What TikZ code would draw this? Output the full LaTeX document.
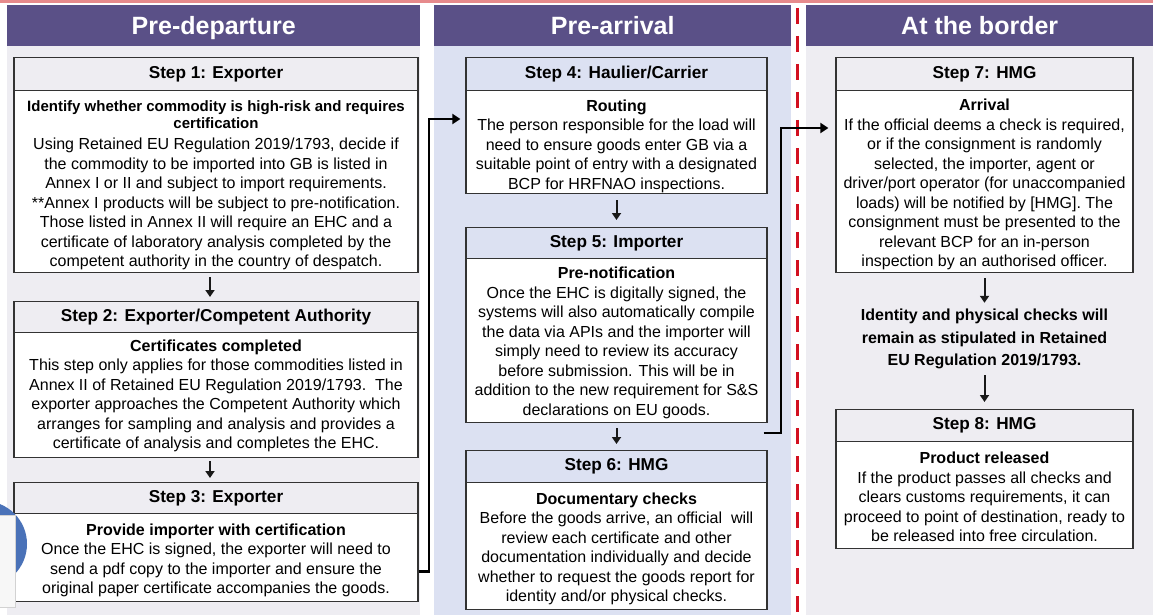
\documentclass[tikz,border=0pt]{standalone}
\usepackage{fontspec}
\setmainfont{Liberation Sans}
\usetikzlibrary{arrows.meta,calc}
\definecolor{hdr}{HTML}{5A5087}
\definecolor{bggray}{HTML}{EEEDF2}
\definecolor{bgblue}{HTML}{DCE1F2}
\definecolor{pinkline}{HTML}{E68A8C}
\definecolor{reddash}{HTML}{D21020}
\definecolor{circblue}{HTML}{4A72B8}
\definecolor{boxline}{HTML}{333333}
\newcommand{\stitle}[1]{{\bfseries\fontsize{16}{19.5}\selectfont #1}}
\newcommand{\stitlesm}[1]{{\bfseries\fontsize{15}{17.5}\selectfont #1}}
\begin{document}
\begin{tikzpicture}[x=1pt,y=-1pt,
  colhead/.style={fill=hdr, text=white, font=\bfseries\fontsize{25}{30}\selectfont, inner sep=0, anchor=north west, minimum height=41, text depth=0pt},
  stephead/.style={draw=boxline, line width=1.2pt, fill=#1, font=\bfseries\fontsize{17.2}{20}\selectfont, inner sep=0, anchor=north},
  stepbody/.style={draw=boxline, line width=1.2pt, fill=white, inner sep=0, anchor=north},
  bodytext/.style={font=\fontsize{16}{19.5}\selectfont, align=center, inner sep=0},
  midtext/.style={font=\bfseries\fontsize{16}{22.5}\selectfont, align=center, inner sep=0},
  flow/.style={draw=black!90, line width=2pt, -{Triangle[width=9pt,length=7pt]}},
  link/.style={draw=black, line width=2.5pt, -{Triangle[width=10pt,length=8pt]}}
]
\useasboundingbox (0,0) rectangle (1153,615);
\fill[white] (0,0) rectangle (1153,615);
\fill[pinkline] (0,0) rectangle (1153,3.5);
% column backgrounds
\fill[bggray] (7,46) rectangle (420,615);
\fill[bgblue] (434,46) rectangle (791,615);
\fill[bggray] (806,46) rectangle (1153,615);
% column headers
\node[colhead, minimum width=413] (h1) at (7,5) {Pre-departure};
\node[colhead, minimum width=357] (h2) at (434,5) {Pre-arrival};
\node[colhead, minimum width=347] (h3) at (806,5) {At the border};
% divider
\draw[reddash, line width=3pt, dash pattern=on 16pt off 12pt] (797,8) -- (797,615);

% ---------- Pre-departure ----------
\node[stephead=bggray, minimum width=404, minimum height=33] (s1h) at (216,57) {Step 1: Exporter};
\node[stepbody, minimum width=404, minimum height=182] (s1b) at (216,90) {};
\node[bodytext] (t1) at ($(s1b.center)+(0,3.5)$) {%
\stitlesm{Identify whether commodity is high-risk and requires}\\[-2pt]
\stitlesm{certification}\\[1.5pt]
Using Retained EU Regulation 2019/1793, decide if\\
the commodity to be imported into GB is listed in\\
Annex I or II and subject to import requirements.\\
**Annex I products will be subject to pre-notification.\\
Those listed in Annex II will require an EHC and a\\
certificate of laboratory analysis completed by the\\
competent authority in the country of despatch.};

\node[stephead=bggray, minimum width=404, minimum height=31] (s2h) at (216,301) {Step 2: Exporter/Competent Authority};
\node[stepbody, minimum width=404, minimum height=125] (s2b) at (216,332) {};
\node[bodytext] (t2) at ($(s2b.center)+(0,1)$) {%
\stitle{Certificates completed}\\
This step only applies for those commodities listed in\\
Annex II of Retained EU Regulation 2019/1793.\ \ The\\
exporter approaches the Competent Authority which\\
arranges for sampling and analysis and provides a\\
certificate of analysis and completes the EHC.};

\node[stephead=bggray, minimum width=404, minimum height=31] (s3h) at (216,482) {Step 3: Exporter};
\node[stepbody, minimum width=404, minimum height=88] (s3b) at (216,513) {};
\node[bodytext] (t3) at ($(s3b.center)+(0,3)$) {%
\stitle{Provide importer with certification}\\
Once the EHC is signed, the exporter will need to\\
send a pdf copy to the importer and ensure the\\
original paper certificate accompanies the goods.};

% ---------- Pre-arrival ----------
\node[stephead=bgblue, minimum width=301, minimum height=33] (s4h) at (616.5,57) {Step 4: Haulier/Carrier};
\node[stepbody, minimum width=301, minimum height=103] (s4b) at (616.5,90) {};
\node[bodytext] (t4) at ($(s4b.center)+(0,4)$) {%
\stitle{Routing}\\
The person responsible for the load will\\
need to ensure goods enter GB via a\\
suitable point of entry with a designated\\
BCP for HRFNAO inspections.};

\node[stephead=bgblue, minimum width=301, minimum height=31] (s5h) at (616.5,227) {Step 5: Importer};
\node[stepbody, minimum width=301, minimum height=164] (s5b) at (616.5,258) {};
\node[bodytext] (t5) at ($(s5b.center)+(0,2.5)$) {%
\stitle{Pre-notification}\\
Once the EHC is digitally signed, the\\
systems will also automatically compile\\
the data via APIs and the importer will\\
simply need to review its accuracy\\
before submission. This will be in\\
addition to the new requirement for S\&S\\
declarations on EU goods.};

\node[stephead=bgblue, minimum width=301, minimum height=32] (s6h) at (616.5,450) {Step 6: HMG};
\node[stepbody, minimum width=301, minimum height=127] (s6b) at (616.5,482) {};
\node[bodytext] (t6) at ($(s6b.center)+(0,3)$) {%
\stitle{Documentary checks}\\
Before the goods arrive, an official\ \ will\\
review each certificate and other\\
documentation individually and decide\\
whether to request the goods report for\\
identity and/or physical checks.};

% ---------- At the border ----------
\node[stephead=bggray, minimum width=297, minimum height=33] (s7h) at (984.5,57) {Step 7: HMG};
\node[stepbody, minimum width=297, minimum height=182] (s7b) at (984.5,90) {};
\node[bodytext] (t7) at ($(s7b.center)+(0,3)$) {%
\stitle{Arrival}\\
If the official deems a check is required,\\
or if the consignment is randomly\\
selected, the importer, agent or\\
driver/port operator (for unaccompanied\\
loads) will be notified by [HMG]. The\\
consignment must be presented to the\\
relevant BCP for an in-person\\
inspection by an authorised officer.};

\node[midtext] (idn) at (984.5,339) {Identity and physical checks will\\
remain as stipulated in Retained\\
EU Regulation 2019/1793.};

\node[stephead=bggray, minimum width=297, minimum height=32] (s8h) at (984.5,409) {Step 8: HMG};
\node[stepbody, minimum width=297, minimum height=107] (s8b) at (984.5,441) {};
\node[bodytext] (t8) at ($(s8b.center)+(0,2)$) {%
\stitle{Product released}\\
If the product passes all checks and\\
clears customs requirements, it can\\
proceed to point of destination, ready to\\
be released into free circulation.};

% ---------- arrows within columns ----------
\draw[flow, shorten <=4pt, shorten >=4pt] ([xshift=-6]s1b.south) -- ([xshift=-6]s2h.north);
\draw[flow, shorten <=3pt, shorten >=4pt] ([xshift=-6]s2b.south) -- ([xshift=-6]s3h.north);
\draw[flow, shorten <=6pt, shorten >=7pt] (s4b.south) -- (s5h.north);
\draw[flow, shorten <=5pt, shorten >=6pt] (s5b.south) -- (s6h.north);
\draw[flow, shorten <=5pt, shorten >=6pt] (s7b.south) -- (idn.north);
\draw[flow, shorten <=6pt, shorten >=7pt] (idn.south) -- (s8h.north);

% ---------- connectors between columns ----------
\coordinate (j1) at (429,119);
\draw[link, shorten >=5pt] ([yshift=-14]s3b.east) -| (j1) -- (j1 -| s4b.west);
\coordinate (j2) at (781,128);
\coordinate (s5out) at ($(s5b.south east)+(-4,10)$);
\draw[link, shorten >=7pt] (s5out) -| (j2) -- (j2 -| s7b.west);

% ---------- partial icon at the left edge ----------
\fill[circblue] (-16,544) circle (43);
\filldraw[fill=gray!6, draw=gray!35, line width=0.8pt] (-2,515) rectangle (15,607);
\end{tikzpicture}
\end{document}
